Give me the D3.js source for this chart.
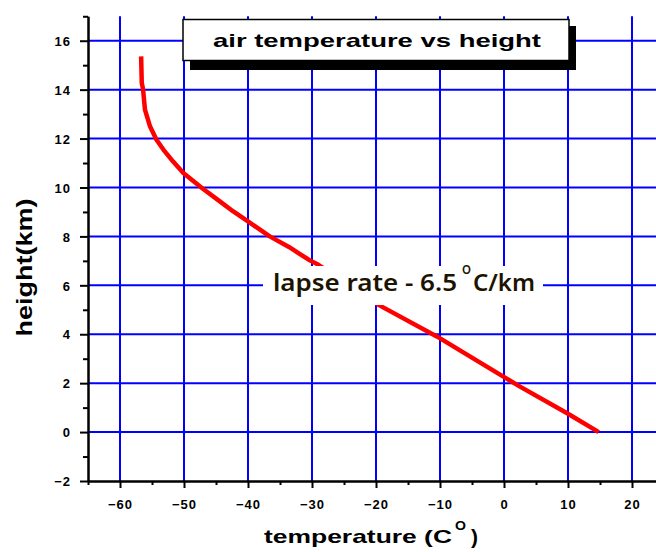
<!DOCTYPE html>
<html>
<head>
<meta charset="utf-8">
<script src="https://cdn.jsdelivr.net/npm/d3@7"></script>
<style>
  html, body { margin: 0; padding: 0; background: #fff; }
  svg { display: block; }
</style>
</head>
<body>
<svg id="chart" width="656" height="552"></svg>
<script>
// ---- data ----
const temperatures = [14.8, 9.8, 2.5, -0.1, -10.5, -19.6, -29.0, -30.4, -32.0, -33.6, -36.6, -40.0, -42.3, -44.4, -47.2, -50.1, -51.7, -53.2, -54.3, -55.3, -56.1, -56.4, -56.6, -56.7];
const heights      = [0, 0.78, 1.86, 2.27, 3.91, 5.2, 6.84, 7.03, 7.3, 7.57, 8.0, 8.61, 9.02, 9.43, 9.98, 10.59, 11.06, 11.54, 11.95, 12.49, 13.18, 14.02, 14.27, 15.36];
const xTicks = [-60, -50, -40, -30, -20, -10, 0, 10, 20];
const xMinorTicks = [-65, -55, -45, -35, -25, -15, -5, 5, 15, 25];
const yTicks = [-2, 0, 2, 4, 6, 8, 10, 12, 14, 16];
const yMinorTicks = [-1, 1, 3, 5, 7, 9, 11, 13, 15, 17];
const titleText = "air temperature vs height";
const xTitle = "temperature (C";
const yTitle = "height(km)";
const annotation = "lapse rate - 6.5";
const annotationUnit = "C/km";

const svg = d3.select("#chart");
const x = d3.scaleLinear().domain([-65, 25]).range([88, 664]);
const y = d3.scaleLinear().domain([-2, 17]).range([481, 16.26]);

// ---- grid ----
const grid = svg.append("g");
grid.selectAll("line.v").data(xTicks.concat([30])).join("line")
  .attr("x1", d => x(d)).attr("x2", d => x(d))
  .attr("y1", y(-2)).attr("y2", y(17))
  .attr("stroke", "#0000ff").attr("stroke-width", 2);
grid.selectAll("line.h").data(yTicks.filter(d => d > -2)).join("line")
  .attr("x1", x(-65)).attr("x2", x(25))
  .attr("y1", d => y(d)).attr("y2", d => y(d))
  .attr("stroke", "#0000ff").attr("stroke-width", 2);

// ---- curve ----
const pts = temperatures.map((t, i) => [t, heights[i]]);
svg.append("path")
  .datum(pts)
  .attr("d", d3.line().x(d => x(d[0])).y(d => y(d[1])))
  .attr("fill", "none").attr("stroke", "#ff0000").attr("stroke-width", 4.5)
  .attr("stroke-linejoin", "round");

// ---- annotation ----
svg.append("rect").attr("x", 263).attr("y", 266).attr("width", 280).attr("height", 39).attr("fill", "#fff");
const ann = svg.append("g").attr("font-family", "'Noto Sans', 'DejaVu Sans', sans-serif")
  .attr("font-weight", 600).attr("fill", "#1c1400");
ann.append("text").attr("x", 273).attr("y", 291).attr("font-size", 23)
  .attr("textLength", 184).attr("lengthAdjust", "spacingAndGlyphs").text(annotation);
ann.append("text").attr("x", 462).attr("y", 274).attr("font-size", 13)
  .attr("textLength", 9).attr("lengthAdjust", "spacingAndGlyphs").text("O");
ann.append("text").attr("x", 473).attr("y", 291).attr("font-size", 23)
  .attr("textLength", 62).attr("lengthAdjust", "spacingAndGlyphs").text(annotationUnit);

// ---- axes ----
const fontAxis = "'Liberation Sans', Arial, sans-serif";
const yAxis = svg.append("g").attr("transform", `translate(${x(-65)},0)`)
  .call(d3.axisLeft(y).tickValues(yTicks).tickSize(8).tickPadding(9).tickSizeOuter(0).tickFormat(d3.format("d")));
const yMinor = svg.append("g").attr("transform", `translate(${x(-65)},0)`)
  .call(d3.axisLeft(y).tickValues(yMinorTicks).tickSize(5).tickSizeOuter(0).tickFormat(""));
const xAxis = svg.append("g").attr("transform", `translate(0,${y(-2)})`)
  .call(d3.axisBottom(x).tickValues(xTicks).tickSize(7).tickPadding(12).tickSizeOuter(0).tickFormat(d3.format("d")));
const xMinor = svg.append("g").attr("transform", `translate(0,${y(-2)})`)
  .call(d3.axisBottom(x).tickValues(xMinorTicks).tickSize(4).tickSizeOuter(0).tickFormat(""));
[yAxis, yMinor, xAxis, xMinor].forEach(g => {
  g.select(".domain").attr("stroke", "#000").attr("stroke-width", 2);
  g.selectAll(".tick line").attr("stroke", "#000").attr("stroke-width", 2);
  g.selectAll(".tick text").attr("font-family", fontAxis).attr("font-weight", "bold")
    .attr("font-size", 13).attr("letter-spacing", "1px").attr("fill", "#000");
});
yAxis.selectAll(".tick text").attr("dy", "0.36em");

// ---- axis titles ----
const xt = svg.append("g").attr("font-family", fontAxis).attr("font-weight", "bold").attr("fill", "#000");
xt.append("text").attr("x", 264).attr("y", 543).attr("font-size", 19)
  .attr("textLength", 188).attr("lengthAdjust", "spacingAndGlyphs").text(xTitle);
xt.append("text").attr("x", 455).attr("y", 530).attr("font-size", 13)
  .attr("textLength", 11).attr("lengthAdjust", "spacingAndGlyphs").text("O");
xt.append("text").attr("x", 471).attr("y", 544).attr("font-size", 21).text(")");

svg.append("text")
  .attr("transform", "translate(31.5,267.5) rotate(-90)")
  .attr("text-anchor", "middle")
  .attr("font-family", fontAxis).attr("font-weight", "bold").attr("font-size", 22)
  .attr("textLength", 138).attr("lengthAdjust", "spacingAndGlyphs")
  .text(yTitle);

// ---- title box ----
svg.append("rect").attr("x", 190).attr("y", 26).attr("width", 386).attr("height", 44).attr("fill", "#000");
svg.append("rect").attr("x", 183).attr("y", 19.5).attr("width", 386).attr("height", 41)
  .attr("fill", "#fff").attr("stroke", "#000").attr("stroke-width", 1.5);
svg.append("text").attr("x", 213).attr("y", 47).attr("font-family", fontAxis).attr("font-weight", "bold")
  .attr("font-size", 19).attr("textLength", 328).attr("lengthAdjust", "spacingAndGlyphs").text(titleText);
</script>
</body>
</html>
